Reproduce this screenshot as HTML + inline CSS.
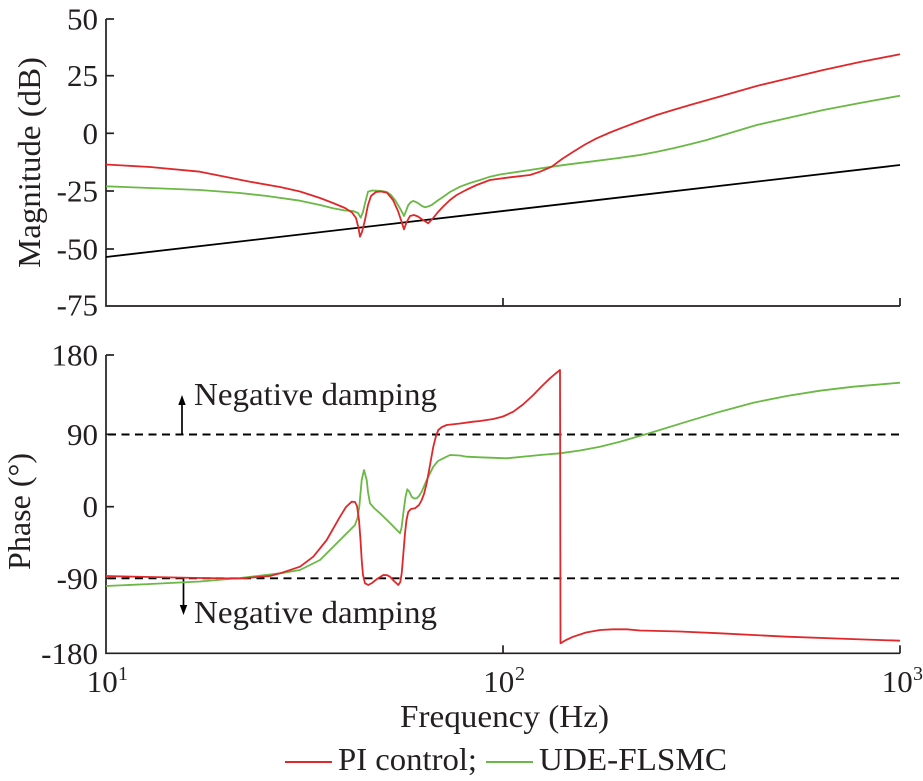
<!DOCTYPE html>
<html>
<head>
<meta charset="utf-8">
<style>
  html, body { margin: 0; padding: 0; background: #ffffff; }
  svg { display: block; font-family: "Liberation Serif", "Times New Roman", serif; }
  text { font-family: "Liberation Serif", "Times New Roman", serif; fill: #231f20; }
</style>
</head>
<body>
<svg width="923" height="781" viewBox="0 0 923 781" xmlns="http://www.w3.org/2000/svg" font-family="Liberation Serif, serif">
  <rect x="0" y="0" width="923" height="781" fill="#ffffff"/>

  <!-- ================= TOP: Magnitude ================= -->
  <g stroke="#231f20" stroke-width="1.7" fill="none" stroke-linecap="butt">
    <polyline points="106,19 106,306 900,306"/>
    <line x1="106" y1="19" x2="114" y2="19"/>
    <line x1="106" y1="75.7" x2="114" y2="75.7"/>
    <line x1="106" y1="133.3" x2="114" y2="133.3"/>
    <line x1="106" y1="191" x2="114" y2="191"/>
    <line x1="106" y1="249" x2="114" y2="249"/>
    <line x1="503" y1="306" x2="503" y2="298"/>
    <line x1="900" y1="306" x2="900" y2="298"/>
  </g>
  <g font-size="31" text-anchor="end" font-family="Liberation Serif, serif">
    <text x="98" y="29.5">50</text>
    <text x="98" y="86.2">25</text>
    <text x="98" y="143.8">0</text>
    <text x="98" y="201.5">-25</text>
    <text x="98" y="259.5">-50</text>
    <text x="98" y="315.5">-75</text>
  </g>
  <text font-family="Liberation Serif, serif" font-size="32" text-anchor="middle" transform="translate(40,162.5) rotate(-90)" textLength="211" lengthAdjust="spacingAndGlyphs">Magnitude (dB)</text>

  <!-- black line -->
  <line x1="106" y1="257" x2="900" y2="165" stroke="#000" stroke-width="1.8"/>

  <!-- green magnitude -->
  <polyline fill="none" stroke="#6ab845" stroke-width="1.8" stroke-linejoin="round" points="
  106,186.3 150,188 200,190 240,193 267,196 300,200.7 320,205 333,208.3 345,210.5 353,211 358,213 360.7,217.7 363,212 365,203.3 368,191.7 372,190.5 376.7,190.7 382,191 386.7,192 391,195 395,200 400,208.3 404,216 406,211 408.3,205 411,202 413.3,201 416,202 418.3,203.3 422,206 425,207.3 428,206.5 431.7,205 437,201 443.3,196.7 450,192 460,186.7 470,183 480,180 490,176.7 500,174.5 523.3,171 551.7,166.7 570,164.2 590,161.7 615,158.5 640,155 657,151.8 673.3,148.3 690,144.3 706.7,140 730,133 756.7,125 790,117.5 823.3,110 860,103 900,95.7"/>

  <!-- red magnitude -->
  <polyline fill="none" stroke="#e0282b" stroke-width="1.8" stroke-linejoin="round" points="
  106,164.5 150,167 200,171.7 250,181.7 280,187 300,191.5 320,198 333,203 345,208 352,212.5 356,218 358.5,228 360,236.7 362,232 365,220 368,205 371,196 376,192 381,191.5 387,192.7 393,200 398,211 401,220 404,229.3 406.7,222 410,216 414,215 418,216.5 423,220 428.3,223.3 433,218.3 438,212 443,206.7 450,200 456.7,195 466,190 476.7,185 490,180 510,177.3 530,175 540,171.7 551.7,166.7 562,159 573.3,151.7 585,144.5 596.7,138.3 610,132.5 623.3,127.3 640,121 656.7,115 673,110 690,105 720,96.5 756.7,86 790,78 823.3,70 860,62 900,54.3"/>

  <!-- ================= BOTTOM: Phase ================= -->
  <g stroke="#231f20" stroke-width="1.7" fill="none">
    <polyline points="106,355 106,653.3 900,653.3"/>
    <line x1="106" y1="355" x2="114" y2="355"/>
    <line x1="106" y1="434.3" x2="114" y2="434.3"/>
    <line x1="106" y1="506.7" x2="114" y2="506.7"/>
    <line x1="106" y1="578.3" x2="114" y2="578.3"/>
    <line x1="503" y1="653.3" x2="503" y2="645.3"/>
    <line x1="900" y1="653.3" x2="900" y2="645.3"/>
  </g>
  <g font-size="31" text-anchor="end" font-family="Liberation Serif, serif">
    <text x="98" y="365.5">180</text>
    <text x="98" y="444.8">90</text>
    <text x="98" y="517.2">0</text>
    <text x="98" y="588.8">-90</text>
    <text x="98" y="663.8">-180</text>
  </g>
  <text font-family="Liberation Serif, serif" font-size="32" text-anchor="middle" transform="translate(30,511.5) rotate(-90)" textLength="117" lengthAdjust="spacingAndGlyphs">Phase (°)</text>

  <!-- dashed lines -->
  <g stroke="#000" stroke-width="1.9" stroke-dasharray="8 5.5">
    <line x1="108" y1="434.5" x2="900" y2="434.5"/>
    <line x1="108" y1="578.3" x2="900" y2="578.3"/>
  </g>

  <!-- arrows -->
  <g stroke="#000" stroke-width="1.7">
    <line x1="182" y1="434.5" x2="182" y2="402"/>
    <line x1="183.5" y1="578.3" x2="183.5" y2="608"/>
  </g>
  <polygon points="182,395 178.3,405 185.7,405" fill="#000"/>
  <polygon points="183.5,615 179.8,605 187.2,605" fill="#000"/>

  <text font-family="Liberation Serif, serif" x="194" y="405" font-size="32" textLength="243" lengthAdjust="spacingAndGlyphs">Negative damping</text>
  <text font-family="Liberation Serif, serif" x="194" y="623" font-size="32" textLength="243" lengthAdjust="spacingAndGlyphs">Negative damping</text>

  <!-- green phase -->
  <polyline fill="none" stroke="#6ab845" stroke-width="1.8" stroke-linejoin="round" points="
  106,586 150,584 200,581.5 240,578 270,574.5 280,573.3 300,570 320,560 340,540 350,530 355,525 357.5,518 359.3,506.7 361.7,480 364,470 366.7,480 368,492 370,503.3 374,508 380,513.3 390,523 400,533.3 401.5,528 403.3,513.3 405.5,497 407.3,489.3 409.5,492 411.7,496.7 414,498.5 416.7,498.3 419,496 421.7,491.7 426.7,480 433.3,466.7 438,461 443.3,458.3 450,455 460,455.5 466.7,456.7 480,457.3 506.7,458.3 540,455 560,453.3 580,450.5 600,446.7 620,441.7 646.7,434 686.7,421.7 720,411.7 753.3,402.7 786.7,396 820,390.7 853.3,386.7 900,382.7"/>

  <!-- red phase -->
  <polyline fill="none" stroke="#e0282b" stroke-width="1.8" stroke-linejoin="round" points="
  106,576 150,577 200,578 240,578.5 270,576 280,573.3 300,566.7 313.3,556.7 326.7,540 340,516.7 346,507 351.7,501.7 355,502 357,506 359,520 360.5,540 361.7,560 363,575 365,583.3 368.3,585 372,583 377,579 383.3,575 387,575.2 390,576.7 394,581 398.3,585 400.3,582 401.7,573.3 403,558 405,533.3 406.5,520 408.3,511.7 411,509 415,508.3 419,505 421.7,500 424,494 426.7,483.3 430,465 433.3,446.7 436,436 438.3,430 442,427 446.7,425 460,423.5 473.3,421.7 480,421 493.3,419 503,416.5 513.3,411.7 523,404.5 533.3,395 542,386 550,378.3 555,374 560,370 560.5,643.3 566,640 573.3,636.7 586,632.5 600,630 613,629.3 626.7,629.3 640,630.5 680,631.5 720,633.3 786.7,636.7 850,639 900,640.7"/>

  <!-- x tick labels -->
  <g font-size="31" font-family="Liberation Serif, serif">
    <text x="86.7" y="692">10</text>
    <text x="118" y="680" font-size="20">1</text>
    <text x="483.3" y="692">10</text>
    <text x="515" y="680" font-size="20">2</text>
    <text x="881.7" y="692">10</text>
    <text x="913" y="680" font-size="20">3</text>
  </g>

  <text font-family="Liberation Serif, serif" x="400" y="727" font-size="32" textLength="209" lengthAdjust="spacingAndGlyphs">Frequency (Hz)</text>

  <!-- legend -->
  <line x1="285" y1="762" x2="332" y2="762" stroke="#e0282b" stroke-width="2"/>
  <text font-family="Liberation Serif, serif" x="338" y="770" font-size="32" textLength="139" lengthAdjust="spacingAndGlyphs">PI control;</text>
  <line x1="486" y1="762" x2="533" y2="762" stroke="#6ab845" stroke-width="2"/>
  <text font-family="Liberation Serif, serif" x="539" y="770" font-size="32" textLength="188" lengthAdjust="spacingAndGlyphs">UDE-FLSMC</text>
</svg>
</body>
</html>
